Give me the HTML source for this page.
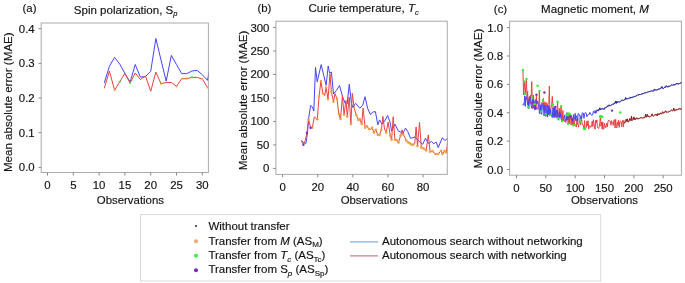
<!DOCTYPE html>
<html><head><meta charset="utf-8"><title>MAE vs observations</title>
<style>html,body{margin:0;padding:0;background:#fff;width:685px;height:283px;overflow:hidden}svg{display:block}text{stroke:#111;stroke-width:0.15px}</style>
</head><body>
<svg width="685" height="283" viewBox="0 0 685 283" font-family='"Liberation Sans", Arial, sans-serif' fill="#111"><clipPath id="ca"><rect x="41.2" y="23.0" width="167.2" height="149.5"/></clipPath>
<rect x="41.2" y="23.0" width="167.2" height="149.5" fill="none" stroke="#aaaaaa" stroke-width="1"/>
<line x1="38.50" y1="167.40" x2="41.20" y2="167.40" stroke="#888888" stroke-width="1"/>
<text x="34.70" y="171.40" text-anchor="end" font-size="11.4" >0.0</text>
<line x1="38.50" y1="132.70" x2="41.20" y2="132.70" stroke="#888888" stroke-width="1"/>
<text x="34.70" y="136.70" text-anchor="end" font-size="11.4" >0.1</text>
<line x1="38.50" y1="98.00" x2="41.20" y2="98.00" stroke="#888888" stroke-width="1"/>
<text x="34.70" y="102.00" text-anchor="end" font-size="11.4" >0.2</text>
<line x1="38.50" y1="63.30" x2="41.20" y2="63.30" stroke="#888888" stroke-width="1"/>
<text x="34.70" y="67.30" text-anchor="end" font-size="11.4" >0.3</text>
<line x1="38.50" y1="28.60" x2="41.20" y2="28.60" stroke="#888888" stroke-width="1"/>
<text x="34.70" y="32.60" text-anchor="end" font-size="11.4" >0.4</text>
<line x1="47.50" y1="172.50" x2="47.50" y2="175.50" stroke="#888888" stroke-width="1"/>
<text x="47.50" y="189.30" text-anchor="middle" font-size="11.4" >0</text>
<line x1="73.30" y1="172.50" x2="73.30" y2="175.50" stroke="#888888" stroke-width="1"/>
<text x="73.30" y="189.30" text-anchor="middle" font-size="11.4" >5</text>
<line x1="99.10" y1="172.50" x2="99.10" y2="175.50" stroke="#888888" stroke-width="1"/>
<text x="99.10" y="189.30" text-anchor="middle" font-size="11.4" >10</text>
<line x1="124.90" y1="172.50" x2="124.90" y2="175.50" stroke="#888888" stroke-width="1"/>
<text x="124.90" y="189.30" text-anchor="middle" font-size="11.4" >15</text>
<line x1="150.70" y1="172.50" x2="150.70" y2="175.50" stroke="#888888" stroke-width="1"/>
<text x="150.70" y="189.30" text-anchor="middle" font-size="11.4" >20</text>
<line x1="176.50" y1="172.50" x2="176.50" y2="175.50" stroke="#888888" stroke-width="1"/>
<text x="176.50" y="189.30" text-anchor="middle" font-size="11.4" >25</text>
<line x1="202.30" y1="172.50" x2="202.30" y2="175.50" stroke="#888888" stroke-width="1"/>
<text x="202.30" y="189.30" text-anchor="middle" font-size="11.4" >30</text>
<text transform="translate(12.40,102.20) rotate(-90)" text-anchor="middle" font-size="11.6">Mean absolute error (MAE)</text>
<text x="29.50" y="12.30" text-anchor="middle" font-size="11.4" >(a)</text>
<text x="73.80" y="14.10" font-size="11.55">Spin polarization, S<tspan font-style="italic" font-size="7.5" dy="2.2">p</tspan></text>
<text x="130.40" y="203.50" text-anchor="middle" font-size="11.4" >Observations</text>
<polyline points="104.26,83.10 109.42,66.20 114.58,57.40 119.74,64.10 124.90,73.30 130.06,82.20 135.22,64.50 140.38,77.10 145.54,76.50 150.70,71.40 155.86,38.50 161.02,60.00 166.18,81.20 171.34,55.40 176.50,64.60 181.66,73.60 186.82,73.60 191.98,71.00 197.14,70.40 202.30,74.70 207.46,80.30 212.62,55.00" fill="none" stroke="#4444f6" stroke-width="1" stroke-linejoin="round" clip-path="url(#ca)" />
<polyline points="104.26,88.40 109.42,71.20 114.58,90.10 119.74,81.80 124.90,73.30 130.06,83.00 135.22,73.00 140.38,79.50 145.54,76.10 150.70,91.30 155.86,72.10 161.02,83.70 166.18,82.50 171.34,82.50 176.50,86.30 181.66,78.70 186.82,78.70 191.98,77.40 197.14,77.40 202.30,79.00 207.46,87.40" fill="none" stroke="#e84040" stroke-width="1" stroke-linejoin="round" clip-path="url(#ca)" />
<g fill="#f0a040" clip-path="url(#ca)"><circle cx="114.58" cy="90.10" r="1.1"/></g>
<g fill="#f0a040" clip-path="url(#ca)"><circle cx="161.02" cy="83.70" r="1.1"/></g>
<g fill="#f0a040" clip-path="url(#ca)"><circle cx="176.50" cy="86.30" r="1.1"/></g>
<g fill="#f0a040" clip-path="url(#ca)"><circle cx="186.82" cy="78.70" r="1.1"/></g>
<g fill="#f0a040" clip-path="url(#ca)"><circle cx="202.30" cy="79.00" r="1.1"/></g>
<g fill="#f0a040" clip-path="url(#ca)"><circle cx="207.46" cy="87.40" r="1.1"/></g>
<g fill="#33ee33" clip-path="url(#ca)"><circle cx="119.74" cy="81.80" r="1.1"/></g>
<g fill="#33ee33" clip-path="url(#ca)"><circle cx="130.06" cy="83.00" r="1.1"/></g>
<g fill="#33ee33" clip-path="url(#ca)"><circle cx="191.98" cy="77.40" r="1.1"/></g>
<clipPath id="cb"><rect x="275.9" y="21.2" width="171.40000000000003" height="153.20000000000002"/></clipPath>
<rect x="275.9" y="21.2" width="171.40000000000003" height="153.20000000000002" fill="none" stroke="#aaaaaa" stroke-width="1"/>
<line x1="273.20" y1="168.40" x2="275.90" y2="168.40" stroke="#888888" stroke-width="1"/>
<text x="269.40" y="172.40" text-anchor="end" font-size="11.4" >0</text>
<line x1="273.20" y1="144.92" x2="275.90" y2="144.92" stroke="#888888" stroke-width="1"/>
<text x="269.40" y="148.92" text-anchor="end" font-size="11.4" >50</text>
<line x1="273.20" y1="121.44" x2="275.90" y2="121.44" stroke="#888888" stroke-width="1"/>
<text x="269.40" y="125.44" text-anchor="end" font-size="11.4" >100</text>
<line x1="273.20" y1="97.96" x2="275.90" y2="97.96" stroke="#888888" stroke-width="1"/>
<text x="269.40" y="101.96" text-anchor="end" font-size="11.4" >150</text>
<line x1="273.20" y1="74.48" x2="275.90" y2="74.48" stroke="#888888" stroke-width="1"/>
<text x="269.40" y="78.48" text-anchor="end" font-size="11.4" >200</text>
<line x1="273.20" y1="51.00" x2="275.90" y2="51.00" stroke="#888888" stroke-width="1"/>
<text x="269.40" y="55.00" text-anchor="end" font-size="11.4" >250</text>
<line x1="273.20" y1="27.52" x2="275.90" y2="27.52" stroke="#888888" stroke-width="1"/>
<text x="269.40" y="31.52" text-anchor="end" font-size="11.4" >300</text>
<line x1="282.60" y1="174.40" x2="282.60" y2="177.40" stroke="#888888" stroke-width="1"/>
<text x="282.60" y="190.80" text-anchor="middle" font-size="11.4" >0</text>
<line x1="317.72" y1="174.40" x2="317.72" y2="177.40" stroke="#888888" stroke-width="1"/>
<text x="317.72" y="190.80" text-anchor="middle" font-size="11.4" >20</text>
<line x1="352.84" y1="174.40" x2="352.84" y2="177.40" stroke="#888888" stroke-width="1"/>
<text x="352.84" y="190.80" text-anchor="middle" font-size="11.4" >40</text>
<line x1="387.96" y1="174.40" x2="387.96" y2="177.40" stroke="#888888" stroke-width="1"/>
<text x="387.96" y="190.80" text-anchor="middle" font-size="11.4" >60</text>
<line x1="423.08" y1="174.40" x2="423.08" y2="177.40" stroke="#888888" stroke-width="1"/>
<text x="423.08" y="190.80" text-anchor="middle" font-size="11.4" >80</text>
<text transform="translate(246.90,100.45) rotate(-90)" text-anchor="middle" font-size="11.6">Mean absolute error (MAE)</text>
<text x="264.40" y="12.00" text-anchor="middle" font-size="11.4" >(b)</text>
<text x="308.40" y="12.25" font-size="11.55">Curie temperature, <tspan font-style="italic">T</tspan><tspan font-style="italic" font-size="7.5" dy="2.3">c</tspan></text>
<text x="374.20" y="203.50" text-anchor="middle" font-size="11.4" >Observations</text>
<polyline points="301.20,140.40 303.70,142.50 305.90,143.50 306.90,137.30 307.80,129.20 308.40,120.00 310.60,105.50 312.40,106.90 313.80,111.10 315.50,67.40 317.20,81.80 321.20,64.60 326.10,85.40 328.20,66.00 329.70,73.40 331.40,72.00 333.50,94.00 336.40,90.50 339.50,85.50 342.50,96.50 345.20,103.50 347.10,104.00 349.30,84.20 351.40,103.30 352.80,107.50 355.60,103.30 359.80,108.20 362.70,105.40 365.00,96.70 367.60,108.20 370.40,114.60 372.50,112.10 375.40,111.60 377.80,124.80 379.60,119.90 382.00,124.10 384.50,121.30 387.60,115.50 390.20,122.70 391.60,131.20 394.90,124.10 398.50,131.20 400.60,131.90 402.70,134.00 405.50,128.10 407.70,131.50 410.60,138.40 412.80,137.70 414.90,137.00 417.00,139.10 419.80,142.00 422.70,144.30 425.50,138.20 428.30,143.40 431.50,141.50 433.80,143.70 436.10,142.00 438.20,147.60 442.40,137.70 444.80,140.50 446.70,139.10 449.00,138.00" fill="none" stroke="#4444f6" stroke-width="1" stroke-linejoin="round" clip-path="url(#cb)" />
<polyline points="301.60,141.00 303.40,144.70 305.30,140.40 306.90,132.90 308.60,119.70 310.60,127.70 312.30,127.70 314.30,116.90 317.30,119.30 319.10,96.00 320.90,81.10 322.90,93.50 324.70,95.60 326.10,87.50 328.00,99.10 330.00,74.00 331.40,92.00 333.50,101.70 335.00,93.50 337.00,99.10 338.80,114.00 340.50,118.90 342.40,96.30 344.10,114.70 345.90,100.50 347.30,116.60 349.20,97.00 350.90,124.10 352.30,93.40 354.20,108.20 356.30,115.00 358.40,119.90 359.80,119.20 361.70,124.10 363.10,108.20 365.10,127.70 366.90,126.20 369.00,129.00 370.70,129.50 372.10,127.70 374.00,132.60 375.80,129.80 377.80,134.70 379.60,135.10 381.40,129.80 382.90,116.40 384.50,129.00 386.20,132.60 388.10,122.00 390.20,135.40 391.60,139.70 393.20,116.80 394.90,139.70 396.80,140.00 398.50,142.50 400.60,135.40 402.00,129.80 403.40,134.70 404.80,137.50 406.20,140.40 408.10,142.20 409.80,143.20 411.50,144.60 413.30,144.60 414.70,143.90 416.10,127.00 417.50,146.00 419.50,122.40 421.30,147.40 423.70,148.60 426.20,150.40 428.30,134.90 430.10,151.80 432.50,151.10 435.40,154.00 438.20,154.00 441.00,150.70 442.40,154.00 444.50,151.10 446.40,152.50 448.50,135.00" fill="none" stroke="#e84040" stroke-width="1" stroke-linejoin="round" clip-path="url(#cb)" />
<g fill="#f0a040" clip-path="url(#cb)"><circle cx="308.60" cy="119.70" r="1.3"/><circle cx="312.30" cy="127.70" r="1.3"/><circle cx="317.30" cy="119.30" r="1.3"/><circle cx="319.10" cy="96.00" r="1.3"/><circle cx="320.90" cy="81.10" r="1.3"/><circle cx="322.90" cy="93.50" r="1.3"/><circle cx="326.10" cy="87.50" r="1.3"/><circle cx="328.00" cy="99.10" r="1.3"/><circle cx="331.40" cy="92.00" r="1.3"/><circle cx="333.50" cy="101.70" r="1.3"/><circle cx="337.00" cy="99.10" r="1.3"/><circle cx="338.80" cy="114.00" r="1.3"/><circle cx="340.50" cy="118.90" r="1.3"/><circle cx="344.10" cy="114.70" r="1.3"/><circle cx="347.30" cy="116.60" r="1.3"/><circle cx="350.90" cy="124.10" r="1.3"/><circle cx="356.30" cy="115.00" r="1.3"/><circle cx="358.40" cy="119.90" r="1.3"/><circle cx="359.80" cy="119.20" r="1.3"/><circle cx="361.70" cy="124.10" r="1.3"/><circle cx="365.10" cy="127.70" r="1.3"/><circle cx="366.90" cy="126.20" r="1.3"/><circle cx="369.00" cy="129.00" r="1.3"/><circle cx="372.10" cy="127.70" r="1.3"/><circle cx="374.00" cy="132.60" r="1.3"/><circle cx="375.80" cy="129.80" r="1.3"/><circle cx="377.80" cy="134.70" r="1.3"/><circle cx="379.60" cy="135.10" r="1.3"/><circle cx="381.40" cy="129.80" r="1.3"/><circle cx="386.20" cy="132.60" r="1.3"/><circle cx="390.20" cy="135.40" r="1.3"/><circle cx="391.60" cy="139.70" r="1.3"/><circle cx="394.90" cy="139.70" r="1.3"/><circle cx="396.80" cy="140.00" r="1.3"/><circle cx="398.50" cy="142.50" r="1.3"/><circle cx="400.60" cy="135.40" r="1.3"/><circle cx="403.40" cy="134.70" r="1.3"/><circle cx="406.20" cy="140.40" r="1.3"/><circle cx="408.10" cy="142.20" r="1.3"/><circle cx="409.80" cy="143.20" r="1.3"/><circle cx="411.50" cy="144.60" r="1.3"/><circle cx="413.30" cy="144.60" r="1.3"/><circle cx="417.50" cy="146.00" r="1.3"/><circle cx="421.30" cy="147.40" r="1.3"/><circle cx="423.70" cy="148.60" r="1.3"/><circle cx="426.20" cy="150.40" r="1.3"/><circle cx="430.10" cy="151.80" r="1.3"/><circle cx="432.50" cy="151.10" r="1.3"/><circle cx="435.40" cy="154.00" r="1.3"/><circle cx="438.20" cy="154.00" r="1.3"/><circle cx="441.00" cy="150.70" r="1.3"/><circle cx="442.40" cy="154.00" r="1.3"/><circle cx="444.50" cy="151.10" r="1.3"/><circle cx="446.40" cy="152.50" r="1.3"/></g>
<g fill="#7a2ed2" clip-path="url(#cb)"><circle cx="303.40" cy="144.70" r="1.2"/><circle cx="306.90" cy="132.90" r="1.2"/><circle cx="310.60" cy="127.70" r="1.2"/></g>
<clipPath id="cc"><rect x="509.6" y="21.2" width="171.79999999999995" height="154.0"/></clipPath>
<rect x="509.6" y="21.2" width="171.79999999999995" height="154.0" fill="none" stroke="#aaaaaa" stroke-width="1"/>
<line x1="506.90" y1="169.50" x2="509.60" y2="169.50" stroke="#888888" stroke-width="1"/>
<text x="503.10" y="173.50" text-anchor="end" font-size="11.4" >0.0</text>
<line x1="506.90" y1="141.12" x2="509.60" y2="141.12" stroke="#888888" stroke-width="1"/>
<text x="503.10" y="145.12" text-anchor="end" font-size="11.4" >0.2</text>
<line x1="506.90" y1="112.74" x2="509.60" y2="112.74" stroke="#888888" stroke-width="1"/>
<text x="503.10" y="116.74" text-anchor="end" font-size="11.4" >0.4</text>
<line x1="506.90" y1="84.36" x2="509.60" y2="84.36" stroke="#888888" stroke-width="1"/>
<text x="503.10" y="88.36" text-anchor="end" font-size="11.4" >0.6</text>
<line x1="506.90" y1="55.98" x2="509.60" y2="55.98" stroke="#888888" stroke-width="1"/>
<text x="503.10" y="59.98" text-anchor="end" font-size="11.4" >0.8</text>
<line x1="506.90" y1="27.60" x2="509.60" y2="27.60" stroke="#888888" stroke-width="1"/>
<text x="503.10" y="31.60" text-anchor="end" font-size="11.4" >1.0</text>
<line x1="516.50" y1="175.20" x2="516.50" y2="178.20" stroke="#888888" stroke-width="1"/>
<text x="516.50" y="191.70" text-anchor="middle" font-size="11.4" >0</text>
<line x1="545.84" y1="175.20" x2="545.84" y2="178.20" stroke="#888888" stroke-width="1"/>
<text x="545.84" y="191.70" text-anchor="middle" font-size="11.4" >50</text>
<line x1="575.18" y1="175.20" x2="575.18" y2="178.20" stroke="#888888" stroke-width="1"/>
<text x="575.18" y="191.70" text-anchor="middle" font-size="11.4" >100</text>
<line x1="604.52" y1="175.20" x2="604.52" y2="178.20" stroke="#888888" stroke-width="1"/>
<text x="604.52" y="191.70" text-anchor="middle" font-size="11.4" >150</text>
<line x1="633.86" y1="175.20" x2="633.86" y2="178.20" stroke="#888888" stroke-width="1"/>
<text x="633.86" y="191.70" text-anchor="middle" font-size="11.4" >200</text>
<line x1="663.20" y1="175.20" x2="663.20" y2="178.20" stroke="#888888" stroke-width="1"/>
<text x="663.20" y="191.70" text-anchor="middle" font-size="11.4" >250</text>
<text transform="translate(481.70,98.50) rotate(-90)" text-anchor="middle" font-size="11.6">Mean absolute error (MAE)</text>
<text x="500.50" y="12.50" text-anchor="middle" font-size="11.4" >(c)</text>
<text x="541.10" y="13.10" font-size="11.55">Magnetic moment, <tspan font-style="italic">M</tspan></text>
<text x="604.50" y="203.50" text-anchor="middle" font-size="11.4" >Observations</text>
<polyline points="522.95,70.00 523.54,95.00 524.13,88.00 524.72,81.50 525.30,94.00 525.89,86.00 526.48,79.00 527.06,100.00 527.65,91.43 528.24,107.30 528.82,97.82 529.41,96.55 530.00,103.78 530.58,95.14 531.17,96.17 531.76,81.63 532.34,102.70 532.93,108.77 533.52,95.14 534.10,107.10 534.69,104.14 535.28,107.55 535.86,108.57 536.45,94.72 537.04,107.91 537.62,108.96 538.21,109.19 538.80,108.42 539.39,90.84 539.97,109.55 540.56,107.84 541.15,111.41 541.73,102.55 542.32,102.45 542.91,100.48 543.49,98.40 544.08,107.94 544.67,102.46 545.25,101.90 545.84,114.02 546.43,103.11 547.01,102.82 547.60,106.27 548.19,104.07 548.77,103.31 549.36,86.00 549.95,115.27 550.53,115.06 551.12,106.95 551.71,104.45 552.29,96.37 552.88,104.76 553.47,115.11 554.06,115.56 554.64,116.31 555.23,107.01 555.82,117.52 556.40,111.04 556.99,110.33 557.58,101.70 558.16,118.16 558.75,117.31 559.34,108.43 559.92,116.87 560.51,113.12 561.10,106.09 561.68,118.50 562.27,121.01 562.86,110.44 563.44,119.23 564.03,120.58 564.62,121.47 565.20,120.03 565.79,122.56 566.38,114.91 566.96,120.15 567.55,115.16 568.14,123.80 568.73,113.52 569.31,123.81 569.90,114.25 570.49,116.50 571.07,125.16 571.66,118.28 572.25,124.55 572.83,117.74 573.42,125.29 574.01,119.76 574.59,124.51 575.18,125.00 575.77,124.17 576.35,127.06 576.94,119.30 577.53,124.07 578.11,125.16 578.70,127.17 579.29,118.36 579.87,119.82 580.46,124.67 581.05,121.85 581.63,119.32 582.22,124.91 582.81,124.77 583.40,125.81 583.98,128.70 584.57,120.55 585.16,128.86 585.74,128.16 586.33,127.59 586.92,120.96 587.50,125.79 588.09,120.76 588.68,129.14 589.26,126.52 589.85,125.59 590.44,127.37 591.02,126.18 591.61,126.39 592.20,121.17 592.78,126.48 593.37,119.65 593.96,123.28 594.54,127.11 595.13,129.22 595.72,120.03 596.30,122.88 596.89,119.93 597.48,127.50 598.07,128.08 598.65,128.50 599.24,126.70 599.83,122.68 600.41,115.61 601.00,126.30 601.59,122.20 602.17,129.21 602.76,121.74 603.35,129.18 603.93,128.89 604.52,123.27 605.11,126.43 605.69,127.93 606.28,125.62 606.87,122.93 607.45,127.01 608.04,121.34 608.63,120.05 609.21,121.21 609.80,121.07 610.39,121.44 610.97,125.29 611.56,120.62 612.15,123.03 612.74,122.80 613.32,125.36 613.91,120.34 614.50,119.65 615.08,128.04 615.67,119.45 616.26,126.66 616.84,128.06 617.43,122.11 618.02,125.59 618.60,120.24 619.19,127.31 619.78,121.71 620.36,121.16 620.95,121.46 621.54,126.64 622.12,122.02 622.71,120.24 623.30,127.05 623.88,120.50 624.47,123.32 625.06,122.32 625.64,121.78 626.23,119.31 626.82,121.36 627.41,118.86 627.99,121.95 628.58,121.75 629.17,120.81 629.75,118.61 630.34,119.91 630.93,120.60 631.51,116.16 632.10,120.50 632.69,119.92 633.27,119.31 633.86,116.91 634.45,119.56 635.03,118.41 635.62,119.54 636.21,118.85 636.79,117.76 637.38,118.85 637.97,118.82 638.55,118.64 639.14,118.67 639.73,117.93 640.31,118.15 640.90,117.34 641.49,117.78 642.08,118.24 642.66,117.95 643.25,118.15 643.84,117.37 644.42,117.57 645.01,117.41 645.60,114.21 646.18,117.09 646.77,116.77 647.36,114.38 647.94,116.55 648.53,116.30 649.12,117.09 649.70,116.67 650.29,116.29 650.88,116.53 651.46,115.98 652.05,113.82 652.64,115.66 653.22,116.28 653.81,115.84 654.40,115.36 654.98,114.46 655.57,114.61 656.16,115.40 656.75,114.32 657.33,115.70 657.92,113.52 658.51,114.97 659.09,114.33 659.68,114.15 660.27,113.10 660.85,113.14 661.44,114.15 662.03,113.33 662.61,111.74 663.20,113.09 663.79,113.17 664.37,112.45 664.96,112.26 665.55,110.82 666.13,112.24 666.72,112.00 667.31,112.25 667.89,111.63 668.48,112.19 669.07,111.33 669.65,111.49 670.24,110.92 670.83,110.66 671.42,110.18 672.00,110.15 672.59,110.97 673.18,110.48 673.76,108.08 674.35,110.77 674.94,110.84 675.52,109.79 676.11,110.32 676.70,109.31 677.28,109.61 677.87,109.41 678.46,109.04 679.04,109.55 679.63,108.44 680.22,108.93 680.80,109.36 681.39,108.14 681.98,108.99 682.56,108.71" fill="none" stroke="#e84040" stroke-width="1" stroke-linejoin="round" clip-path="url(#cc)" />
<polyline points="522.95,105.56 523.54,103.68 524.13,104.80 524.72,95.80 525.30,106.49 525.89,96.58 526.48,99.13 527.06,99.46 527.65,104.89 528.24,100.38 528.82,108.70 529.41,99.16 530.00,96.68 530.58,99.21 531.17,106.12 531.76,108.29 532.34,99.29 532.93,99.53 533.52,102.92 534.10,100.75 534.69,109.90 535.28,109.86 535.86,99.33 536.45,101.46 537.04,103.79 537.62,101.09 538.21,104.13 538.80,104.43 539.39,113.38 539.97,113.79 540.56,104.84 541.15,113.09 541.73,114.45 542.32,106.05 542.91,103.04 543.49,107.00 544.08,115.95 544.67,105.13 545.25,115.30 545.84,116.45 546.43,115.74 547.01,105.25 547.60,117.08 548.19,105.47 548.77,114.99 549.36,106.73 549.95,115.52 550.53,109.54 551.12,114.40 551.71,116.07 552.29,117.71 552.88,107.39 553.47,107.95 554.06,117.74 554.64,107.53 555.23,116.70 555.82,111.80 556.40,109.84 556.99,117.93 557.58,110.53 558.16,119.38 558.75,120.27 559.34,112.36 559.92,117.70 560.51,113.57 561.10,118.85 561.68,121.95 562.27,121.17 562.86,120.35 563.44,120.81 564.03,118.22 564.62,114.96 565.20,120.20 565.79,119.40 566.38,120.40 566.96,112.58 567.55,119.63 568.14,119.06 568.73,119.39 569.31,116.09 569.90,115.67 570.49,114.82 571.07,115.15 571.66,120.12 572.25,119.36 572.83,121.23 573.42,114.57 574.01,119.77 574.59,118.45 575.18,113.34 575.77,120.79 576.35,115.83 576.94,116.42 577.53,121.37 578.11,113.59 578.70,113.70 579.29,115.09 579.87,116.13 580.46,118.78 581.05,115.40 581.63,118.84 582.22,112.96 582.81,112.57 583.40,113.15 583.98,118.38 584.57,114.25 585.16,112.74 585.74,112.57 586.33,113.70 586.92,116.68 587.50,115.06 588.09,114.80 588.68,114.52 589.26,114.59 589.85,112.35 590.44,113.92 591.02,114.35 591.61,115.32 592.20,114.47 592.78,114.87 593.37,111.22 593.96,112.62 594.54,112.79 595.13,110.40 595.72,113.42 596.30,112.95 596.89,109.67 597.48,110.05 598.07,111.08 598.65,109.60 599.24,109.86 599.83,107.86 600.41,109.94 601.00,109.14 601.59,108.80 602.17,109.04 602.76,108.52 603.35,108.74 603.93,109.49 604.52,107.92 605.11,107.94 605.69,107.89 606.28,107.24 606.87,107.29 607.45,105.90 608.04,106.08 608.63,105.99 609.21,104.82 609.80,105.84 610.39,105.70 610.97,105.08 611.56,104.86 612.15,104.39 612.74,104.26 613.32,104.09 613.91,104.15 614.50,102.96 615.08,103.14 615.67,101.02 616.26,103.34 616.84,101.30 617.43,102.36 618.02,101.90 618.60,101.83 619.19,102.21 619.78,101.77 620.36,101.61 620.95,101.35 621.54,100.17 622.12,100.38 622.71,100.10 623.30,100.42 623.88,100.16 624.47,99.73 625.06,99.72 625.64,97.56 626.23,99.18 626.82,98.72 627.41,98.71 627.99,99.03 628.58,98.45 629.17,98.67 629.75,97.62 630.34,98.10 630.93,97.04 631.51,97.89 632.10,96.79 632.69,97.36 633.27,96.98 633.86,97.12 634.45,96.72 635.03,96.10 635.62,96.36 636.21,95.49 636.79,95.81 637.38,95.24 637.97,94.53 638.55,95.00 639.14,94.97 639.73,94.30 640.31,95.01 640.90,94.34 641.49,94.11 642.08,93.46 642.66,93.91 643.25,93.36 643.84,93.68 644.42,92.89 645.01,93.02 645.60,92.83 646.18,92.86 646.77,92.35 647.36,92.09 647.94,92.29 648.53,91.80 649.12,91.87 649.70,91.41 650.29,91.49 650.88,90.91 651.46,90.90 652.05,91.45 652.64,90.93 653.22,90.66 653.81,91.22 654.40,88.96 654.98,89.87 655.57,90.04 656.16,89.82 656.75,90.26 657.33,90.03 657.92,89.16 658.51,89.15 659.09,88.90 659.68,88.96 660.27,88.63 660.85,88.56 661.44,86.93 662.03,86.66 662.61,88.32 663.20,88.70 663.79,87.99 664.37,87.42 664.96,86.89 665.55,87.52 666.13,85.78 666.72,86.05 667.31,86.65 667.89,87.23 668.48,85.92 669.07,86.52 669.65,86.20 670.24,85.89 670.83,85.42 671.42,85.02 672.00,85.24 672.59,85.22 673.18,84.59 673.76,85.00 674.35,85.17 674.94,84.20 675.52,84.79 676.11,83.44 676.70,83.77 677.28,84.01 677.87,83.20 678.46,84.12 679.04,83.65 679.63,83.48 680.22,83.23 680.80,83.19 681.39,82.25 681.98,82.93 682.56,82.20" fill="none" stroke="#4444f6" stroke-width="1" stroke-linejoin="round" clip-path="url(#cc)" />
<polyline points="597.48,110.05 598.07,111.08 598.65,109.60 599.24,109.86 599.83,107.86 600.41,109.94 601.00,109.14 601.59,108.80 602.17,109.04 602.76,108.52 603.35,108.74 603.93,109.49 604.52,107.92 605.11,107.94 605.69,107.89 606.28,107.24 606.87,107.29 607.45,105.90 608.04,106.08 608.63,105.99 609.21,104.82 609.80,105.84 610.39,105.70 610.97,105.08 611.56,104.86 612.15,104.39 612.74,104.26 613.32,104.09 613.91,104.15 614.50,102.96 615.08,103.14 615.67,101.02 616.26,103.34 616.84,101.30 617.43,102.36 618.02,101.90 618.60,101.83 619.19,102.21 619.78,101.77 620.36,101.61 620.95,101.35 621.54,100.17 622.12,100.38 622.71,100.10 623.30,100.42 623.88,100.16 624.47,99.73 625.06,99.72 625.64,97.56 626.23,99.18 626.82,98.72 627.41,98.71 627.99,99.03 628.58,98.45 629.17,98.67 629.75,97.62 630.34,98.10 630.93,97.04 631.51,97.89 632.10,96.79 632.69,97.36 633.27,96.98 633.86,97.12 634.45,96.72 635.03,96.10 635.62,96.36 636.21,95.49 636.79,95.81 637.38,95.24 637.97,94.53 638.55,95.00 639.14,94.97 639.73,94.30 640.31,95.01 640.90,94.34 641.49,94.11 642.08,93.46 642.66,93.91 643.25,93.36 643.84,93.68 644.42,92.89 645.01,93.02 645.60,92.83 646.18,92.86 646.77,92.35 647.36,92.09 647.94,92.29 648.53,91.80 649.12,91.87 649.70,91.41 650.29,91.49 650.88,90.91 651.46,90.90 652.05,91.45 652.64,90.93 653.22,90.66 653.81,91.22 654.40,88.96 654.98,89.87 655.57,90.04 656.16,89.82 656.75,90.26 657.33,90.03 657.92,89.16 658.51,89.15 659.09,88.90 659.68,88.96 660.27,88.63 660.85,88.56 661.44,86.93 662.03,86.66 662.61,88.32 663.20,88.70 663.79,87.99 664.37,87.42 664.96,86.89 665.55,87.52 666.13,85.78 666.72,86.05 667.31,86.65 667.89,87.23 668.48,85.92 669.07,86.52 669.65,86.20 670.24,85.89 670.83,85.42 671.42,85.02 672.00,85.24 672.59,85.22 673.18,84.59 673.76,85.00 674.35,85.17 674.94,84.20 675.52,84.79 676.11,83.44 676.70,83.77 677.28,84.01 677.87,83.20 678.46,84.12 679.04,83.65 679.63,83.48 680.22,83.23 680.80,83.19 681.39,82.25 681.98,82.93 682.56,82.20" fill="none" stroke="#20206a" stroke-width="0.7" stroke-linejoin="round" clip-path="url(#cc)" />
<polyline points="624.47,123.32 625.06,122.32 625.64,121.78 626.23,119.31 626.82,121.36 627.41,118.86 627.99,121.95 628.58,121.75 629.17,120.81 629.75,118.61 630.34,119.91 630.93,120.60 631.51,116.16 632.10,120.50 632.69,119.92 633.27,119.31 633.86,116.91 634.45,119.56 635.03,118.41 635.62,119.54 636.21,118.85 636.79,117.76 637.38,118.85 637.97,118.82 638.55,118.64 639.14,118.67 639.73,117.93 640.31,118.15 640.90,117.34 641.49,117.78 642.08,118.24 642.66,117.95 643.25,118.15 643.84,117.37 644.42,117.57 645.01,117.41 645.60,114.21 646.18,117.09 646.77,116.77 647.36,114.38 647.94,116.55 648.53,116.30 649.12,117.09 649.70,116.67 650.29,116.29 650.88,116.53 651.46,115.98 652.05,113.82 652.64,115.66 653.22,116.28 653.81,115.84 654.40,115.36 654.98,114.46 655.57,114.61 656.16,115.40 656.75,114.32 657.33,115.70 657.92,113.52 658.51,114.97 659.09,114.33 659.68,114.15 660.27,113.10 660.85,113.14 661.44,114.15 662.03,113.33 662.61,111.74 663.20,113.09 663.79,113.17 664.37,112.45 664.96,112.26 665.55,110.82 666.13,112.24 666.72,112.00 667.31,112.25 667.89,111.63 668.48,112.19 669.07,111.33 669.65,111.49 670.24,110.92 670.83,110.66 671.42,110.18 672.00,110.15 672.59,110.97 673.18,110.48 673.76,108.08 674.35,110.77 674.94,110.84 675.52,109.79 676.11,110.32 676.70,109.31 677.28,109.61 677.87,109.41 678.46,109.04 679.04,109.55 679.63,108.44 680.22,108.93 680.80,109.36 681.39,108.14 681.98,108.99 682.56,108.71" fill="none" stroke="#6a1818" stroke-width="0.7" stroke-linejoin="round" clip-path="url(#cc)" />
<g fill="#33ee33" clip-path="url(#cc)"><circle cx="528.24" cy="107.30" r="1.2"/><circle cx="534.69" cy="104.14" r="1.2"/><circle cx="539.39" cy="90.84" r="1.2"/><circle cx="541.15" cy="111.41" r="1.2"/><circle cx="542.91" cy="100.48" r="1.2"/><circle cx="545.84" cy="114.02" r="1.2"/><circle cx="550.53" cy="115.06" r="1.2"/><circle cx="552.88" cy="104.76" r="1.2"/><circle cx="557.58" cy="101.70" r="1.2"/><circle cx="558.16" cy="118.16" r="1.2"/><circle cx="561.10" cy="106.09" r="1.2"/><circle cx="562.27" cy="121.01" r="1.2"/><circle cx="566.38" cy="114.91" r="1.2"/><circle cx="567.55" cy="115.16" r="1.2"/><circle cx="568.14" cy="123.80" r="1.2"/><circle cx="568.73" cy="113.52" r="1.2"/><circle cx="569.90" cy="114.25" r="1.2"/><circle cx="573.42" cy="125.29" r="1.2"/><circle cx="575.18" cy="125.00" r="1.2"/><circle cx="579.87" cy="119.82" r="1.2"/><circle cx="581.05" cy="121.85" r="1.2"/><circle cx="583.98" cy="128.70" r="1.2"/><circle cx="585.16" cy="128.86" r="1.2"/><circle cx="522.95" cy="70.00" r="1.2"/><circle cx="524.72" cy="81.50" r="1.2"/><circle cx="526.48" cy="79.00" r="1.2"/><circle cx="525.30" cy="94.00" r="1.2"/><circle cx="537.60" cy="85.80" r="1.2"/><circle cx="532.00" cy="97.40" r="1.2"/><circle cx="600.00" cy="116.80" r="1.2"/><circle cx="601.20" cy="116.20" r="1.2"/><circle cx="602.40" cy="117.00" r="1.2"/><circle cx="620.30" cy="112.50" r="1.2"/></g>
<g fill="#7a2ed2" clip-path="url(#cc)"><circle cx="532.34" cy="102.70" r="1.2"/><circle cx="534.10" cy="107.10" r="1.2"/><circle cx="535.86" cy="108.57" r="1.2"/><circle cx="536.45" cy="94.72" r="1.2"/><circle cx="544.08" cy="107.94" r="1.2"/><circle cx="554.06" cy="115.56" r="1.2"/><circle cx="555.23" cy="107.01" r="1.2"/><circle cx="570.49" cy="116.50" r="1.2"/><circle cx="544.40" cy="92.50" r="1.2"/><circle cx="612.00" cy="110.60" r="1.2"/></g>
<rect x="140.5" y="214.6" width="460.2" height="66.4" fill="none" stroke="#dadada" stroke-width="1"/>
<circle cx="196" cy="226" r="0.9" fill="#111"/>
<circle cx="196" cy="241.3" r="2" fill="#f0a878"/>
<circle cx="196" cy="255.7" r="2" fill="#3cf044"/>
<circle cx="196" cy="270.3" r="2" fill="#7428cc"/>
<text x="208.40" y="230.30" text-anchor="start" font-size="11.5" >Without transfer</text>
<text x="208.40" y="244.70" text-anchor="start" font-size="11.5" >Transfer from <tspan font-style="italic">M</tspan> (AS<tspan font-size="8" dy="2.5">M</tspan><tspan dy="-2.5">)</tspan></text>
<text x="208.40" y="259.10" text-anchor="start" font-size="11.5" >Transfer from <tspan font-style="italic">T</tspan><tspan font-style="italic" font-size="8" dy="2.5">c</tspan><tspan dy="-2.5"> (AS</tspan><tspan font-size="8" dy="2.5">Tc</tspan><tspan dy="-2.5">)</tspan></text>
<text x="208.40" y="273.30" text-anchor="start" font-size="11.5" >Transfer from S<tspan font-style="italic" font-size="8" dy="2.5">p</tspan><tspan dy="-2.5"> (AS</tspan><tspan font-size="8" dy="2.5">Sp</tspan><tspan dy="-2.5">)</tspan></text>
<line x1="350.00" y1="241.90" x2="378.20" y2="241.90" stroke="#a8c0e8" stroke-width="1.7"/>
<line x1="350.00" y1="255.80" x2="378.20" y2="255.80" stroke="#d8a0a8" stroke-width="1.7"/>
<text x="382.00" y="244.50" text-anchor="start" font-size="11.5" >Autonomous search without networking</text>
<text x="382.00" y="258.90" text-anchor="start" font-size="11.5" >Autonomous search with networking</text></svg>
</body></html>
